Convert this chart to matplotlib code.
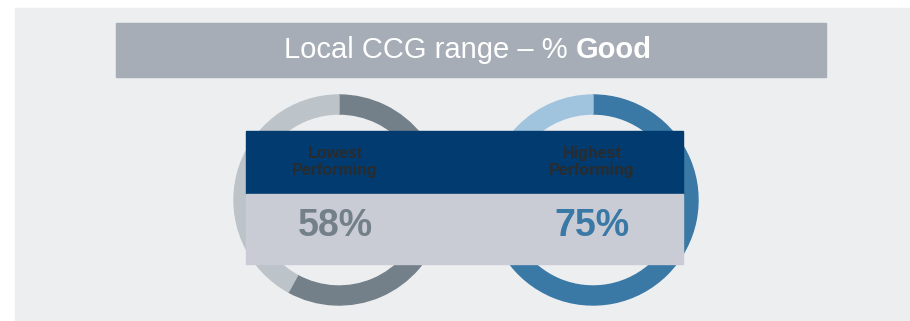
import matplotlib.pyplot as plt
from matplotlib.patches import Rectangle, Wedge

plt.rcParams['font.family'] = ['Liberation Sans', 'DejaVu Sans']

# CCG range - share of "Good" ratings
labels = ['Lowest\nPerforming', 'Highest\nPerforming']
values = [58, 75]
dark_colors = ['#748089', '#3a78a6']
light_colors = ['#bcc3c9', '#a0c4de']
title_text = 'Local CCG range \u2013 %'
title_bold = 'Good'

W, H = 910, 321
fig = plt.figure(figsize=(W / 100, H / 100), dpi=100, facecolor='white')
ax = fig.add_axes([0, 0, 1, 1])
ax.set_xlim(0, W)
ax.set_ylim(H, 0)
ax.axis('off')

# panel and title strip
ax.add_patch(Rectangle((15, 8), W - 15, H - 8, color='#eceef0', zorder=0))
ax.add_patch(Rectangle((116, 23), 710, 54, color='#a6adb6', zorder=1))
ax.text(568, 50, title_text, ha='right', va='center', color='white',
        fontsize=21, zorder=2)
ax.text(576, 50, title_bold, ha='left', va='center', color='white',
        fontsize=21, fontweight='bold', zorder=2)

# donut rings, starting at 12 o'clock going clockwise
centers = [339, 593]
cy, r_out, ring = 200, 105, 19
for cx, v, dc, lc in zip(centers, values, dark_colors, light_colors):
    end = -90 + 360 * v / 100
    ax.add_patch(Wedge((cx, cy), r_out, -90, end, width=ring,
                       color=dc, zorder=2))
    ax.add_patch(Wedge((cx, cy), r_out, end, 270, width=ring,
                       color=lc, zorder=2))

# table overlay
ax.add_patch(Rectangle((246, 131), 437, 63, color='#013b6f', zorder=3))
ax.add_patch(Rectangle((246, 194), 437, 70, color='#c9ccd5', zorder=3))

text_x = [335, 592]
for tx, lab, v, dc in zip(text_x, labels, values, dark_colors):
    ax.text(tx, 162, lab, ha='center', va='center', color='#2b2b2b',
            fontsize=11.5, fontweight='bold', linespacing=1.1, zorder=4)
    ax.text(tx, 226, f'{v}%', ha='center', va='center', color=dc,
            fontsize=27, fontweight='bold', zorder=4)

fig.savefig('out.png', dpi=100, facecolor='white')
